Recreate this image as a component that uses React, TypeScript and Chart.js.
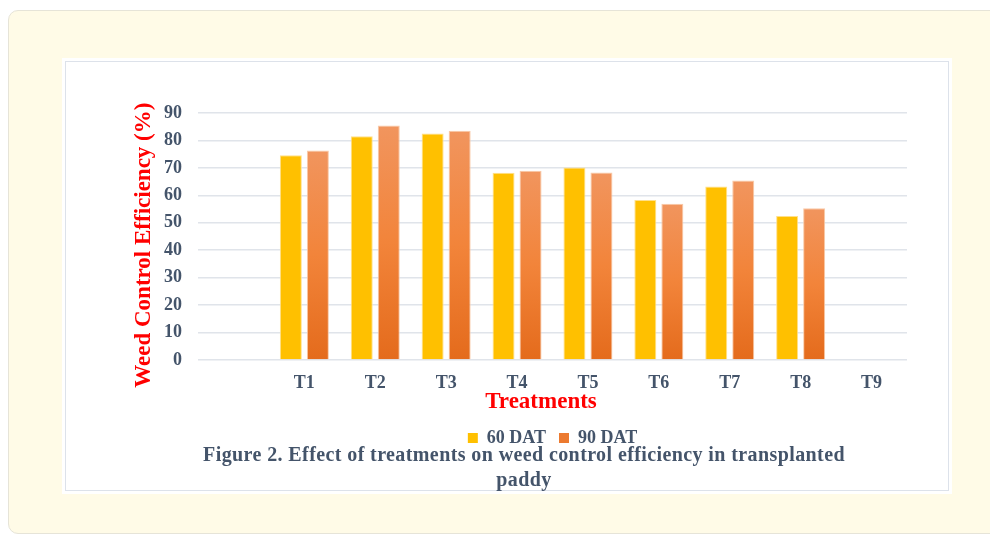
import React, { useEffect, useRef } from "react";
import { Chart, registerables } from "chart.js";

Chart.register(...registerables);

const categories = ["", "T1", "T2", "T3", "T4", "T5", "T6", "T7", "T8", "T9"];
const dat60 = [null, 74.6, 81.5, 82.5, 68.2, 70.1, 58.3, 63.2, 52.5, null];
const dat90 = [null, 76.3, 85.4, 83.5, 69.0, 68.3, 56.9, 65.4, 55.3, null];
const seriesNames = ["60 DAT", "90 DAT"];
const yTicks = { min: 0, max: 90, step: 10 };

const FONT = '"Liberation Serif", "Times New Roman", serif';
const TEXT = "#44546a";
const NB = "\u00a0";

export default function App() {
  const canvasRef = useRef<HTMLCanvasElement | null>(null);

  useEffect(() => {
    if (!canvasRef.current) return;
    const grad90 = (c: any) => {
      const chart = c.chart;
      const { chartArea, scales } = chart;
      if (!chartArea || c.type !== "data" || c.raw == null || !scales.y) return "#ec7a30";
      const top = scales.y.getPixelForValue(c.raw);
      const base = scales.y.getPixelForValue(0);
      const g = chart.ctx.createLinearGradient(0, top, 0, base);
      g.addColorStop(0, "#f1955e");
      g.addColorStop(0.5, "#f2843a");
      g.addColorStop(1, "#e46b1c");
      return g;
    };
    const chart = new Chart(canvasRef.current, {
      type: "bar",
      data: {
        labels: categories,
        datasets: [
          {
            label: seriesNames[0],
            data: dat60,
            backgroundColor: "#ffc000",
            borderColor: "#ffe08a",
            borderWidth: 1,
            categoryPercentage: 0.762,
            barPercentage: 0.815,
          },
          {
            label: seriesNames[1],
            data: dat90,
            backgroundColor: grad90,
            borderColor: "#f9c9a6",
            borderWidth: 1,
            categoryPercentage: 0.762,
            barPercentage: 0.815,
          },
        ],
      },
      options: {
        animation: false,
        responsive: false,
        maintainAspectRatio: false,
        layout: { padding: { left: 60, right: 41, top: 51, bottom: 0 } },
        plugins: {
          tooltip: { enabled: false },
          title: { display: false },
          legend: {
            position: "bottom",
            fullSize: false,
            labels: {
              boxWidth: 10,
              boxHeight: 10,
              padding: 13,
              color: TEXT,
              font: { family: FONT, size: 18, weight: "bold" },
              generateLabels: (ch: any) =>
                ch.data.datasets.map((d: any, i: number) => ({
                  text: d.label,
                  fillStyle: i === 0 ? "#ffc000" : "#ec7a30",
                  strokeStyle: i === 0 ? "#ffc000" : "#ec7a30",
                  lineWidth: 0,
                  fontColor: TEXT,
                  datasetIndex: i,
                  hidden: false,
                })),
            },
          },
        },
        scales: {
          x: {
            grid: { display: false },
            border: { display: false },
            ticks: {
              color: TEXT,
              padding: 5,
              font: { family: FONT, size: 18, weight: "bold" },
            },
            title: {
              display: true,
              text: "Treatments" + NB.repeat(4),
              color: "#ff0000",
              padding: { top: 0, bottom: 0 },
              font: { family: FONT, size: 23, weight: "bold" },
            },
            afterFit: (s: any) => {
              s.height = 56;
            },
          },
          y: {
            min: yTicks.min,
            max: yTicks.max,
            border: { display: false },
            grid: { color: "#e0e4ea", lineWidth: 1.5, drawTicks: false },
            ticks: {
              stepSize: yTicks.step,
              color: TEXT,
              padding: 16,
              font: { family: FONT, size: 18, weight: "bold" },
            },
            title: {
              display: true,
              text: "Weed Control Efficiency (%)" + NB.repeat(3),
              color: "#ff0000",
              padding: { top: 4, bottom: 0 },
              font: { family: FONT, size: 23, weight: "bold" },
            },
            afterFit: (s: any) => {
              s.width = 72;
            },
          },
        },
      },
    });
    return () => chart.destroy();
  }, []);

  return (
    <div
      style={{
        position: "absolute",
        left: 0,
        top: 0,
        width: 990,
        height: 537,
        overflow: "hidden",
        background: "#ffffff",
      }}
    >
      <div
        style={{
          position: "absolute",
          left: 8,
          top: 10,
          width: 1100,
          height: 524,
          background: "#fffbe7",
          border: "1px solid #e6e4d8",
          borderRadius: 10,
          boxSizing: "border-box",
        }}
      />
      <div
        style={{
          position: "absolute",
          left: 65,
          top: 61,
          width: 884,
          height: 430,
          background: "#ffffff",
          border: "1px solid #dde2ea",
          boxShadow: "0 0 0 3px #ffffff",
          boxSizing: "border-box",
        }}
      />
      <canvas
        ref={canvasRef}
        width={882}
        height={395}
        style={{ position: "absolute", left: 66, top: 62, width: 882, height: 395 }}
      />
      <div
        style={{
          position: "absolute",
          left: 66,
          top: 442,
          width: 882,
          boxSizing: "border-box",
          paddingLeft: 34,
          textAlign: "center",
          fontFamily: FONT,
          fontWeight: "bold",
          fontSize: 20,
          letterSpacing: "0.4px",
          lineHeight: "25px",
          color: TEXT,
        }}
      >
        Figure 2. Effect of treatments on weed control efficiency in transplanted
        <br />
        paddy
      </div>
    </div>
  );
}
